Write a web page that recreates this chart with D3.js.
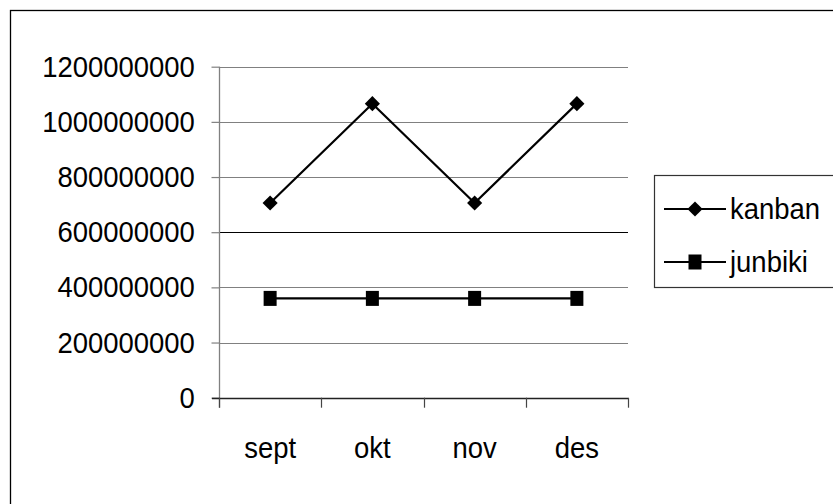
<!DOCTYPE html>
<html>
<head>
<meta charset="utf-8">
<script src="https://cdn.jsdelivr.net/npm/d3@7"></script>
<style>
  html, body { margin: 0; padding: 0; background: #fff; }
  svg { display: block; font-family: "Liberation Sans", Arial, sans-serif; }
</style>
</head>
<body>
<svg id="chart" width="833" height="504"></svg>
<script>
// ─── DATA ─────────────────────────────────────────────────────────────────────
const months = ['sept', 'okt', 'nov', 'des'];
const kanban = [706000000, 1066000000, 706000000, 1066000000];
const junbiki = [360000000, 360000000, 360000000, 360000000];
const yTicks = [0, 200000000, 400000000, 600000000, 800000000, 1000000000, 1200000000];
const seriesNames = ['kanban', 'junbiki'];
// ──────────────────────────────────────────────────────────────────────────────

const svg = d3.select('#chart');
const FONT = '30px';
const SQUEEZE = 'scale(0.915,1)'; // original text is a bit narrow and tall

// outer chart frame (runs off the right / bottom edge like the original)
svg.append('rect')
  .attr('x', 10.5).attr('y', 10.5)
  .attr('width', 900).attr('height', 600)
  .attr('fill', 'none').attr('stroke', '#000').attr('stroke-width', 1.3);

const x = d3.scaleBand().domain(months).range([219, 628]).padding(0);
const y = d3.scaleLinear().domain([0, 1200000000]).range([397.7, 66.7]);
const cx = (d) => x(d) + x.bandwidth() / 2;

// gridlines
svg.append('g')
  .selectAll('line')
  .data(yTicks.filter((d) => d > 0))
  .join('line')
  .attr('x1', 219).attr('x2', 628)
  .attr('y1', (d) => Math.round(y(d)) + 0.5)
  .attr('y2', (d) => Math.round(y(d)) + 0.5)
  .attr('stroke', (d) => (d === 600000000 ? '#000' : '#808080'))
  .attr('stroke-width', 1.2);

// y axis
const yAxis = svg.append('g')
  .attr('transform', 'translate(219.5,0)')
  .call(d3.axisLeft(y).tickValues(yTicks).tickSize(8).tickPadding(19).tickFormat(d3.format('d')));
yAxis.select('.domain').attr('stroke', '#808080').attr('stroke-width', 1.3)
  .attr('d', `M0,${y(1200000000)}V${y(0) + 10}`);
yAxis.selectAll('.tick line').attr('stroke', '#808080').attr('stroke-width', 1.2);
yAxis.selectAll('.tick text')
  .attr('fill', '#000')
  .attr('transform', SQUEEZE)
  .style('font-size', FONT)
  .style('font-family', '"Liberation Sans", Arial, sans-serif');

// x axis line + band-boundary ticks
const xg = svg.append('g');
xg.append('line')
  .attr('x1', 212).attr('x2', 628)
  .attr('y1', Math.round(y(0)) + 0.5).attr('y2', Math.round(y(0)) + 0.5)
  .attr('stroke', '#222').attr('stroke-width', 1.3);
xg.selectAll('line.tk')
  .data(months.map((m) => x(m)).concat([x.range()[1]]))
  .join('line')
  .attr('class', 'tk')
  .attr('x1', (d) => Math.round(d) + 0.5).attr('x2', (d) => Math.round(d) + 0.5)
  .attr('y1', y(0)).attr('y2', y(0) + 10)
  .attr('stroke', '#444').attr('stroke-width', 1.2);
xg.selectAll('g.lbl')
  .data(months)
  .join('g')
  .attr('class', 'lbl')
  .attr('transform', (d) => `translate(${cx(d)},458)`)
  .append('text')
  .attr('transform', SQUEEZE)
  .attr('text-anchor', 'middle')
  .style('font-size', FONT)
  .text((d) => d);

// series
const line = d3.line().x((d) => cx(d.m)).y((d) => y(d.v));
const diamond = d3.symbol().type(d3.symbolSquare).size(115);

const kData = months.map((m, i) => ({ m, v: kanban[i] }));
const jData = months.map((m, i) => ({ m, v: junbiki[i] }));

svg.append('path').datum(kData).attr('d', line)
  .attr('fill', 'none').attr('stroke', '#000').attr('stroke-width', 2.2);
svg.append('path').datum(jData).attr('d', line)
  .attr('fill', 'none').attr('stroke', '#000').attr('stroke-width', 2.2);

svg.append('g').selectAll('path')
  .data(kData)
  .join('path')
  .attr('d', diamond)
  .attr('transform', (d) => `translate(${cx(d.m)},${y(d.v)}) rotate(45)`)
  .attr('fill', '#000');

svg.append('g').selectAll('rect')
  .data(jData)
  .join('rect')
  .attr('x', (d) => cx(d.m) - 6.5)
  .attr('y', (d) => y(d.v) - 7.5)
  .attr('width', 13).attr('height', 15)
  .attr('fill', '#000');

// legend
const lg = svg.append('g');
lg.append('rect')
  .attr('x', 654.5).attr('y', 175.5)
  .attr('width', 300).attr('height', 112)
  .attr('fill', '#fff').attr('stroke', '#333').attr('stroke-width', 1.2);

const legendY = d3.scalePoint().domain(seriesNames).range([209, 262]);
seriesNames.forEach((name) => {
  const ly = legendY(name);
  lg.append('line')
    .attr('x1', 664).attr('x2', 726).attr('y1', ly).attr('y2', ly)
    .attr('stroke', '#000').attr('stroke-width', 2.2);
  if (name === 'kanban') {
    lg.append('path').attr('d', diamond)
      .attr('transform', `translate(695,${ly}) rotate(45)`).attr('fill', '#000');
  } else {
    lg.append('rect').attr('x', 695 - 6.5).attr('y', ly - 7.5)
      .attr('width', 13).attr('height', 15).attr('fill', '#000');
  }
  lg.append('g')
    .attr('transform', `translate(730,${ly + 10})`)
    .append('text')
    .attr('transform', SQUEEZE)
    .style('font-size', FONT)
    .text(name);
});
</script>
</body>
</html>
